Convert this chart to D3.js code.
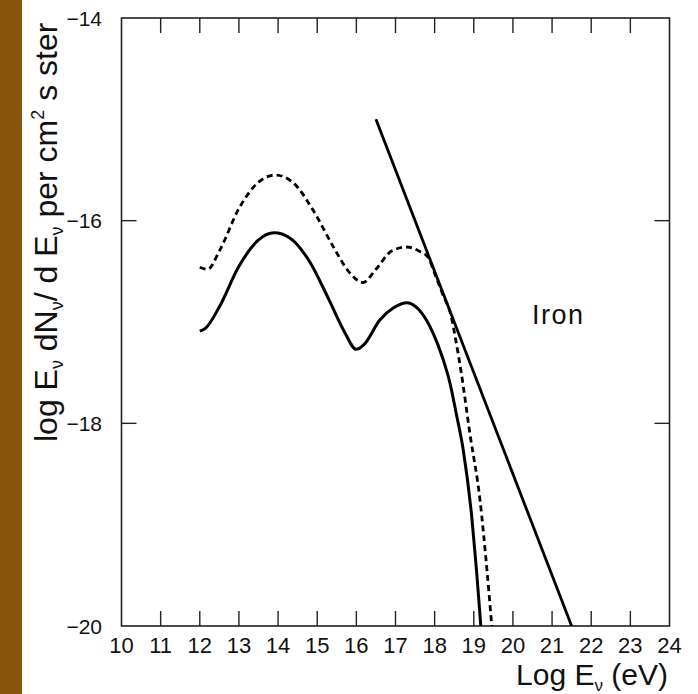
<!DOCTYPE html>
<html>
<head>
<meta charset="utf-8">
<script src="https://cdn.jsdelivr.net/npm/d3@7.9.0/dist/d3.min.js"></script>
<style>
  html, body { margin: 0; padding: 0; background: #fff; }
  svg { display: block; font-family: "Liberation Sans", Arial, sans-serif; }
</style>
</head>
<body>
<svg id="chart" width="698" height="694"></svg>
<script>
// Data: log E (eV) vs log flux
const xTicks = [10, 11, 12, 13, 14, 15, 16, 17, 18, 19, 20, 21, 22, 23, 24];
const yTicks = [-14, -16, -18, -20];

// straight power-law line
const lineE = [16.5, 21.5];
const lineV = [-15.0, -20.0];

// solid curve
const solidE = [12.0, 12.15, 12.5, 13.0, 13.5, 13.9, 14.3, 14.8, 15.3, 15.7, 16.0, 16.2, 16.6, 16.95, 17.3, 17.6, 17.96, 18.2, 18.39, 18.55, 18.73, 18.95, 19.07, 19.18];
const solidV = [-17.09, -17.06, -16.85, -16.45, -16.19, -16.12, -16.17, -16.4, -16.78, -17.1, -17.27, -17.22, -16.98, -16.86, -16.81, -16.88, -17.11, -17.35, -17.6, -17.9, -18.26, -18.93, -19.45, -20.0];

// dashed curve
const dashE = [12.0, 12.2, 12.5, 13.0, 13.5, 13.93, 14.4, 14.9, 15.4, 15.8, 16.17, 16.5, 16.9, 17.29, 17.6, 17.83, 18.0, 18.2, 18.42, 18.55, 18.68, 18.9, 19.16, 19.33, 19.46];
const dashV = [-16.46, -16.48, -16.3, -15.88, -15.62, -15.55, -15.63, -15.9, -16.25, -16.5, -16.61, -16.48, -16.3, -16.26, -16.3, -16.36, -16.52, -16.72, -16.94, -17.2, -17.5, -18.1, -18.76, -19.42, -20.0];

const svg = d3.select('#chart');
const pl = 121.5, pr = 669.5, pt = 18, pb = 626;

const x = d3.scaleLinear().domain([10, 24]).range([pl, pr]);
const y = d3.scaleLinear().domain([-20, -14]).range([pb, pt]);

// brown strip on the left
svg.append('rect').attr('x', 0).attr('y', 0).attr('width', 22).attr('height', 694).attr('fill', '#8a560c');

// clip
svg.append('clipPath').attr('id', 'plot-clip')
  .append('rect').attr('x', pl).attr('y', pt).attr('width', pr - pl).attr('height', pb - pt);

// frame
svg.append('rect')
  .attr('x', pl).attr('y', pt).attr('width', pr - pl).attr('height', pb - pt)
  .attr('fill', 'none').attr('stroke', '#222').attr('stroke-width', 1.6);

const tickLen = 15;
const inner = xTicks.slice(1, -1);
const innerY = yTicks.slice(1, -1);
const ticks = svg.append('g').attr('stroke', '#222').attr('stroke-width', 1.4);
inner.forEach(t => {
  ticks.append('line').attr('x1', x(t)).attr('x2', x(t)).attr('y1', pb).attr('y2', pb - tickLen);
  ticks.append('line').attr('x1', x(t)).attr('x2', x(t)).attr('y1', pt).attr('y2', pt + tickLen);
});
innerY.forEach(t => {
  ticks.append('line').attr('x1', pl).attr('x2', pl + tickLen).attr('y1', y(t)).attr('y2', y(t));
  ticks.append('line').attr('x1', pr).attr('x2', pr - tickLen).attr('y1', y(t)).attr('y2', y(t));
});

// tick labels
svg.append('g').selectAll('text').data(xTicks).join('text')
  .attr('x', d => x(d)).attr('y', 653)
  .attr('text-anchor', 'middle').attr('font-size', 22).attr('fill', '#111')
  .text(d => d);

svg.append('g').selectAll('text').data(yTicks).join('text')
  .attr('x', 102).attr('y', d => y(d)).attr('dy', '0.36em')
  .attr('text-anchor', 'end').attr('font-size', 21).attr('fill', '#111')
  .text(d => '\u2212' + Math.abs(d));

// curves
const g = svg.append('g').attr('clip-path', 'url(#plot-clip)').attr('fill', 'none').attr('stroke', '#000');
const zip = (a, b) => a.map((v, i) => [v, b[i]]);
const line = d3.line().x(d => x(d[0])).y(d => y(d[1]));
const smooth = d3.line().x(d => x(d[0])).y(d => y(d[1])).curve(d3.curveMonotoneX);

g.append('path').attr('d', line(zip(lineE, lineV))).attr('stroke-width', 2.8);
g.append('path').attr('d', smooth(zip(solidE, solidV))).attr('stroke-width', 3);
g.append('path').attr('d', smooth(zip(dashE, dashV))).attr('stroke-width', 2.8).attr('stroke-dasharray', '6,4');

// Iron label
svg.append('text').attr('x', 532).attr('y', 324).attr('font-size', 27)
  .attr('letter-spacing', 1.5).attr('fill', '#111').text('Iron');

// x axis label
const xl = svg.append('text').attr('x', 668).attr('y', 685).attr('text-anchor', 'end').attr('font-size', 30).attr('fill', '#111');
xl.append('tspan').text('Log E');
xl.append('tspan').attr('font-size', 17).attr('dy', 6).text('\u03bd');
xl.append('tspan').attr('dy', -6).text(' (eV)');

// y axis label
const yl = svg.append('text')
  .attr('transform', 'translate(57,442) rotate(-90)')
  .attr('font-size', 32).attr('fill', '#111');
yl.append('tspan').text('log E');
yl.append('tspan').attr('font-size', 18).attr('dy', 6).text('\u03bd');
yl.append('tspan').attr('dy', -6).text(' dN');
yl.append('tspan').attr('font-size', 18).attr('dy', 6).text('\u03bd');
yl.append('tspan').attr('dy', -6).text('/ d E');
yl.append('tspan').attr('font-size', 18).attr('dy', 6).text('\u03bd');
yl.append('tspan').attr('dy', -6).text('  per cm');
yl.append('tspan').attr('font-size', 18).attr('dy', -13).text('2');
yl.append('tspan').attr('dy', 13).text(' s ster');
</script>
</body>
</html>
